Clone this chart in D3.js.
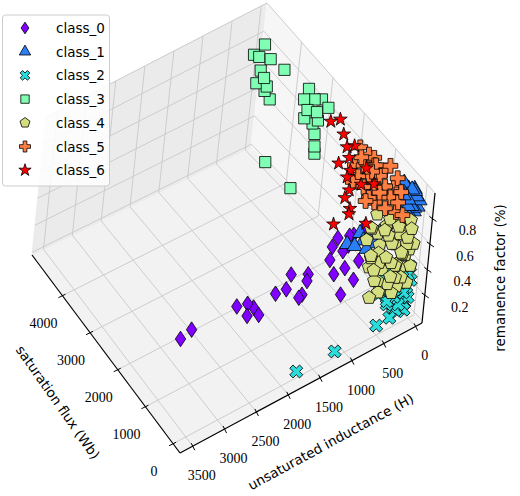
<!DOCTYPE html>
<html>
<head>
<meta charset="utf-8">
<script src="https://cdn.jsdelivr.net/npm/d3@7"></script>
<style>
body { margin: 0; background: #fff; }
svg { display: block; }
</style>
</head>
<body>
<div id="chart"></div>
<script>
// tick labels
var indTicks = [0, 500, 1000, 1500, 2000, 2500, 3000, 3500];
var fluxTicks = [0, 1000, 2000, 3000, 4000];
var remTicks = [0.2, 0.4, 0.6, 0.8];
var classNames = ["class_0", "class_1", "class_2", "class_3", "class_4", "class_5", "class_6"];
var classColors = ["#8000ff", "#2c7ef7", "#2adddd", "#80ffb4", "#d4dd80", "#ff7e41", "#ff0000"];

// [unsaturated inductance, saturation flux, remanence factor]
var class0 = [[3437,558,0.58],[3257,576,0.6],[2515,623,0.57],[2396,516,0.59],[2325,452,0.56],[2518,269,0.6],
  [2357,214,0.58],[1986,445,0.58],[1668,605,0.6],[1816,442,0.57],[1766,129,0.58],[1540,342,0.59],
  [1679,200,0.56],[1478,435,0.6],[1087,531,0.58],[1162,241,0.57],[1094,103,0.43],[1013,196,0.59],
  [884,138,0.48],[864,567,0.58],[821,826,0.6],[592,769,0.58],[393,828,0.57],[952,735,0.59],
  [754,617,0.58],[757,263,0.56],[700,700,0.62]];
var class1 = [[0,0,0.9],[20,60,0.92],[10,150,0.95],[4,336,0.9],[26,106,0.95],[60,30,0.85],[40,200,0.88],
  [80,250,0.9],[30,80,0.8],[100,150,0.87],[50,300,0.93],[120,90,0.82],[132,213,0.9],[175,10,0.9],
  [0,40,0.84],[70,120,0.97],[150,60,0.93],[110,20,0.88],[160,180,0.95],[90,330,0.97],[140,260,0.92],
  [200,120,0.96],[180,40,0.85],[60,200,0.9],
  [717,495,0.6],[571,513,0.6],[437,540,0.6],[322,497,0.6],[482,344,0.6],[616,316,0.6],[232,505,0.6],
  [536,689,0.6],[779,610,0.6]];
var class2 = [[20,40,0.38],[60,20,0.33],[120,80,0.36],[200,150,0.38],[300,200,0.4],[80,120,0.3],
  [150,60,0.28],[250,100,0.3],[350,180,0.33],[40,60,0.22],[100,30,0.2],[180,120,0.22],[280,60,0.24],
  [400,150,0.27],[30,10,0.15],[90,90,0.14],[160,40,0.12],[230,150,0.16],[330,80,0.18],[20,100,0.08],
  [70,20,0.06],[140,80,0.05],[200,30,0.09],[50,200,0.25],[110,160,0.18],[60,50,0.1],[260,220,0.3],
  [10,5,0.28],[150,250,0.35],[380,260,0.2],[180,200,0.32],[240,40,0.2],[90,150,0.26],[320,130,0.24],
  [130,10,0.3],[210,90,0.1],[40,140,0.18],[280,160,0.12],[170,170,0.08],[360,100,0.3],
  [500,20,0.05],[300,10,0.06],[1150,20,0.02],[1750,30,0.02]];
var class3 = [[190,4573,0.9],[423,4484,0.9],[384,4390,0.9],[273,4232,0.9],[221,3888,0.9],[504,4112,0.9],
  [539,3936,0.9],[438,3994,0.8],[430,4057,0.75],[527,4162,0.8],[378,3967,0.7],
  [131,3272,0.9],[291,3119,0.9],[172,3012,0.9],[89,2938,0.9],[100,2710,0.9],[357,2881,0.9],
  [271,2744,0.9],[284,2815,0.8],[216,2840,0.7],[190,2845,0.6],[188,2828,0.55],[401,2877,0.85],
  [268,2696,0.85],[754,3290,0.5],[578,2772,0.4]];
var class4 = [[309,637,0.7],[218,406,0.7],[44,340,0.7],[10,172,0.7],[502,454,0.7],[378,254,0.7],
  [194,177,0.7],[81,0,0.7],[462,607,0.55],[371,377,0.55],[177,352,0.55],[74,110,0.55],[0,46,0.55],
  [567,257,0.55],[421,66,0.55],[214,0,0.55],[493,410,0.4],[381,220,0.4],[176,185,0.4],[42,5,0.4],
  [566,89,0.4],[358,0,0.4],[430,134,0.28],[222,36,0.28],[83,0,0.28],[620,96,0.28],
  [280,300,0.62],[120,260,0.6],[450,200,0.48],[300,120,0.46],[150,80,0.5],[520,330,0.5],
  [60,150,0.45],[250,50,0.35],[350,80,0.32],[100,60,0.62],
  [200,500,0.62],[350,500,0.6],[420,300,0.52],[270,200,0.58],[140,400,0.68],[60,260,0.62],
  [230,120,0.42],[480,150,0.36],[380,400,0.45],[160,300,0.52],[320,350,0.4],[90,200,0.5],
  [540,180,0.45],[260,420,0.66],[420,560,0.64],[30,100,0.5],[170,20,0.34],[300,30,0.25],
  [500,60,0.3],[120,140,0.38]];
var class5 = [[131,1627,0.9],[107,1398,0.9],[269,1245,0.9],[150,1138,0.9],[430,1092,0.9],[311,986,0.9],
  [192,879,0.9],[82,929,0.9],[472,833,0.9],[353,726,0.9],[234,620,0.9],[139,534,0.9],[514,574,0.9],
  [396,467,0.9],[277,361,0.9],[245,183,0.9],[437,208,0.9],[223,254,0.8],[183,128,0.8],[433,545,0.85],
  [579,546,0.9],[540,1042,0.9],[80,1282,0.9],[285,1307,0.95],[418,446,0.95],[119,727,1.0],[181,233,0.95],
  [371,805,1.0],[291,1458,0.85],[90,533,0.95],[200,1000,0.95],[330,600,0.85],[160,400,0.88]];
var class6 = [[207,2423,0.9],[80,2366,0.9],[188,2046,0.9],[274,1767,0.9],[351,1540,0.9],[462,1282,0.9],
  [558,1190,0.9],[656,922,0.9],[818,561,0.9],[878,471,0.9],[1137,435,0.9],[781,115,0.9],[474,907,0.9],
  [331,782,0.9],[263,1165,0.9],[180,1712,0.9],[521,1543,0.9],[775,820,0.9]];
var classData = [class0, class1, class2, class3, class4, class5, class6];

var W = 520, H = 496;
var svg = d3.select("#chart").append("svg").attr("width", W).attr("height", H);

// normalised box coordinates
var sx = d3.scaleLinear().domain([-100, 3700]).range([0, 1]);
var sy = d3.scaleLinear().domain([-250, 5100]).range([0, 1]);
var sz = d3.scaleLinear().domain([-0.02, 1.0]).range([0, 1]);

// floor corners on screen: A (ind max, flux min), B (ind min, flux min), C (ind min, flux max), D (ind max, flux max)
var A = [180, 453], B = [422, 323], C = [251, 147], D = [32, 255];
var vA = [10, -126], vB = [13, -130], vC = [16, -144], vD = [14, -138];

function bil(p00, p10, p01, p11, s, t) {
    return [
        p00[0] * (1 - s) * (1 - t) + p10[0] * s * (1 - t) + p01[0] * (1 - s) * t + p11[0] * s * t,
        p00[1] * (1 - s) * (1 - t) + p10[1] * s * (1 - t) + p01[1] * (1 - s) * t + p11[1] * s * t
    ];
}
function projN(s, t, zn) {
    const f = bil(B, A, C, D, s, t);
    const v = bil(vB, vA, vC, vD, s, t);
    return [f[0] + v[0] * zn, f[1] + v[1] * zn];
}
function proj(ind, flux, rem) {
    return projN(sx(ind), sy(flux), sz(rem));
}
function poly(pts) {
    return "M" + pts.map(p => p[0] + "," + p[1]).join("L") + "Z";
}
function line(p, q, color, w) {
    svg.append("line").attr("x1", p[0]).attr("y1", p[1]).attr("x2", q[0]).attr("y2", q[1])
        .attr("stroke", color).attr("stroke-width", w);
}

// panes
svg.append("path").attr("d", poly([projN(0,0,0), projN(1,0,0), projN(1,1,0), projN(0,1,0)]))
    .attr("fill", "#f2f2f2").attr("stroke", "#f2f2f2");
svg.append("path").attr("d", poly([projN(0,1,0), projN(1,1,0), projN(1,1,1), projN(0,1,1)]))
    .attr("fill", "#ebebeb").attr("stroke", "#ebebeb");
svg.append("path").attr("d", poly([projN(0,0,0), projN(0,1,0), projN(0,1,1), projN(0,0,1)]))
    .attr("fill", "#f6f6f6").attr("stroke", "#f6f6f6");

var gridC = "#c8c8c8";
indTicks.forEach(d => {
    const s = sx(d);
    line(projN(s, 0, 0), projN(s, 1, 0), gridC, 0.9);
    line(projN(s, 1, 0), projN(s, 1, 1), gridC, 0.9);
});
fluxTicks.forEach(d => {
    const t = sy(d);
    line(projN(0, t, 0), projN(1, t, 0), gridC, 0.9);
    line(projN(0, t, 0), projN(0, t, 1), gridC, 0.9);
});
[0.0, 0.2, 0.4, 0.6, 0.8, 1.0].forEach(d => {
    const z = sz(d);
    line(projN(0, 1, z), projN(1, 1, z), gridC, 0.9);
    line(projN(0, 0, z), projN(0, 1, z), gridC, 0.9);
});

// axis lines
line(projN(0, 0, 0), projN(1, 0, 0), "#000", 1.2);
line(projN(1, 0, 0), projN(1, 1, 0), "#000", 1.2);
line(projN(0, 0, 0), projN(0, 0, 1), "#000", 1.2);

var tickFont = "'Liberation Serif', 'DejaVu Serif', serif";
indTicks.forEach(d => {
    const p = projN(sx(d), 0, 0);
    line([p[0] + 2, p[1] + 4], [p[0] - 1.5, p[1] - 3], "#000", 1);
    svg.append("text").attr("x", p[0] + 9).attr("y", p[1] + 34).attr("text-anchor", "middle")
        .attr("font-family", tickFont).attr("font-size", 14).text(d);
});
fluxTicks.forEach(d => {
    const p = projN(1, sy(d), 0);
    line([p[0] - 4, p[1] + 2], [p[0] + 3, p[1] - 1.5], "#000", 1);
    svg.append("text").attr("x", p[0] - 19).attr("y", p[1] + 32).attr("text-anchor", "middle")
        .attr("font-family", tickFont).attr("font-size", 14).text(d);
});
remTicks.forEach(d => {
    const p = projN(0, 0, sz(d));
    line([p[0] - 3, p[1] - 2], [p[0] + 4, p[1] + 3], "#000", 1);
    svg.append("text").attr("x", p[0] + 35).attr("y", p[1] + 17).attr("text-anchor", "middle")
        .attr("font-family", tickFont).attr("font-size", 14).text(d.toFixed(1));
});

var labelFont = "'DejaVu Sans', sans-serif";
svg.append("text").attr("transform", "translate(333,446) rotate(-28.5)").attr("text-anchor", "middle")
    .attr("font-family", labelFont).attr("font-size", 13.5).text("unsaturated inductance (H)");
svg.append("text").attr("transform", "translate(54,405) rotate(55)").attr("text-anchor", "middle")
    .attr("font-family", labelFont).attr("font-size", 13.5).text("saturation flux (Wb)");
svg.append("text").attr("transform", "translate(505,278) rotate(-90)").attr("text-anchor", "middle")
    .attr("font-family", labelFont).attr("font-size", 13.5).text("remanence factor (%)");

// marker shapes
function pentagon(r) {
    const pts = d3.range(5).map(i => {
        const a = -Math.PI / 2 + i * 2 * Math.PI / 5;
        return [r * Math.cos(a), r * Math.sin(a)];
    });
    return poly(pts);
}
var shapes = [
    k => `M0,${-7.8 * k}L${5.2 * k},0L0,${7.8 * k}L${-5.2 * k},0Z`,
    k => d3.symbol(d3.symbolTriangle, 100 * k * k)(),
    k => d3.symbol(d3.symbolCross, 105 * k * k)(),
    k => d3.symbol(d3.symbolSquare, 125 * k * k)(),
    k => pentagon(7 * k),
    k => d3.symbol(d3.symbolCross, 120 * k * k)(),
    k => d3.symbol(d3.symbolStar, 58 * k * k)()
];
var rotations = [0, 0, 45, 0, 0, 0, 0];

classData.forEach((data, ci) => {
    const pts = data.map(d => ({ p: proj(d[0], d[1], d[2]), depth: sx(d[0]) - sy(d[1]) + 0.6 * sz(d[2]) }))
        .sort((a, b) => a.depth - b.depth);
    svg.append("g").selectAll("path").data(pts).join("path")
        .attr("d", shapes[ci](1))
        .attr("transform", d => `translate(${d.p[0]},${d.p[1]}) rotate(${rotations[ci]})`)
        .attr("fill", classColors[ci]).attr("stroke", "#000").attr("stroke-width", 0.8);
});

// legend
var lg = svg.append("g");
lg.append("rect").attr("x", 2.5).attr("y", 15).attr("width", 107).attr("height", 171).attr("rx", 3)
    .attr("fill", "#fff").attr("fill-opacity", 0.85).attr("stroke", "#cccccc");
classNames.forEach((name, i) => {
    const y = 28 + i * 23.7;
    lg.append("path").attr("d", shapes[i](i == 6 ? 0.9 : 0.75))
        .attr("transform", `translate(25,${y}) rotate(${rotations[i]})`)
        .attr("fill", classColors[i]).attr("stroke", "#000").attr("stroke-width", 0.8);
    lg.append("text").attr("x", 56).attr("y", y + 5).attr("font-family", labelFont)
        .attr("font-size", 13.5).text(name);
});
</script>
</body>
</html>
